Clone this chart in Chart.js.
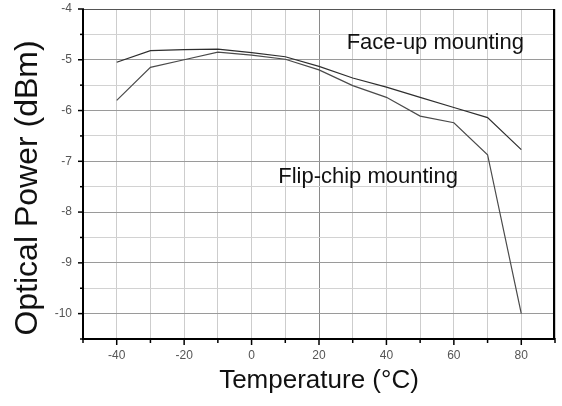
<!DOCTYPE html>
<html>
<head>
<meta charset="utf-8">
<script src="https://cdn.jsdelivr.net/npm/chart.js@4/dist/chart.umd.min.js"></script>
<style>
html,body{margin:0;padding:0;background:#fff;}
#wrap{width:562px;height:406px;}
</style>
</head>
<body>
<div id="wrap"><canvas id="c" width="562" height="406"></canvas></div>
<script>
const temperatures = [-40, -30, -20, -10, 0, 10, 20, 30, 40, 50, 60, 70, 80];
const faceUpPower  = [-5.05, -4.82, -4.80, -4.79, -4.86, -4.94, -5.13, -5.36, -5.54, -5.74, -5.94, -6.14, -6.77];
const flipChipPower = [-5.80, -5.15, -5.00, -4.85, -4.91, -4.99, -5.20, -5.51, -5.74, -6.11, -6.24, -6.87, -10.0];
const xTickLabels = [-40, -20, 0, 20, 40, 60, 80];
const yTickLabels = [-4, -5, -6, -7, -8, -9, -10];
const yTitle = 'Optical Power (dBm)';
const xTitle = 'Temperature (°C)';
const annotations = [
  {text: 'Face-up mounting', x: 28.2, y: -4.67},
  {text: 'Flip-chip mounting', x: 7.9, y: -7.30}
];

const FONT = '"Liberation Sans", Arial, sans-serif';

const toPts = (xs, ys) => xs.map((x, i) => ({x: x, y: ys[i]}));

const frame = {
  id: 'frame',
  beforeDatasetsDraw(chart) {
    const {ctx, chartArea: a} = chart;
    ctx.save();
    ctx.strokeStyle = '#555';
    ctx.lineWidth = 1;
    ctx.beginPath();
    ctx.moveTo(a.left, a.top + 0.5);
    ctx.lineTo(a.right, a.top + 0.5);
    ctx.stroke();
    ctx.restore();
  },
  afterDraw(chart) {
    const {ctx, chartArea: a, scales} = chart;
    const xs = scales.x, ys = scales.y;
    ctx.save();
    ctx.strokeStyle = '#000';
    ctx.lineWidth = 2;
    ctx.beginPath();
    ctx.moveTo(a.right - 1, a.top);
    ctx.lineTo(a.right - 1, a.bottom);
    ctx.stroke();
    ctx.beginPath();
    ctx.moveTo(a.left, a.top);
    ctx.lineTo(a.left, a.bottom);
    ctx.lineTo(a.right, a.bottom);
    ctx.stroke();
    ctx.lineWidth = 1.5;
    xs.ticks.forEach(t => {
      const px = xs.getPixelForValue(t.value);
      const major = Math.abs(t.value % 20) < 1e-6;
      ctx.beginPath();
      ctx.moveTo(px, a.bottom - 1);
      ctx.lineTo(px, a.bottom + (major ? 6 : 4));
      ctx.stroke();
    });
    ys.ticks.forEach(t => {
      const py = ys.getPixelForValue(t.value);
      const major = Math.abs(t.value - Math.round(t.value)) < 1e-6;
      ctx.beginPath();
      ctx.moveTo(a.left + 1, py);
      ctx.lineTo(a.left - (major ? 5 : 3), py);
      ctx.stroke();
    });
    ctx.fillStyle = '#111';
    ctx.font = '22px ' + FONT;
    ctx.textAlign = 'left';
    ctx.textBaseline = 'middle';
    annotations.forEach(an => {
      ctx.fillText(an.text, xs.getPixelForValue(an.x), ys.getPixelForValue(an.y));
    });
    ctx.save();
    ctx.translate(28, 188);
    ctx.rotate(-Math.PI / 2);
    ctx.font = '32px ' + FONT;
    ctx.textAlign = 'center';
    ctx.textBaseline = 'middle';
    ctx.fillText(yTitle, 0, 0);
    ctx.restore();
    ctx.restore();
  }
};

new Chart(document.getElementById('c'), {
  type: 'line',
  data: {
    datasets: [
      {label: 'Face-up mounting', data: toPts(temperatures, faceUpPower),
       borderColor: '#2e2e2e', borderWidth: 1.2, pointRadius: 0, tension: 0, fill: false},
      {label: 'Flip-chip mounting', data: toPts(temperatures, flipChipPower),
       borderColor: '#4a4a4a', borderWidth: 1.2, pointRadius: 0, tension: 0, fill: false}
    ]
  },
  options: {
    responsive: false,
    animation: false,
    devicePixelRatio: 1,
    layout: {padding: {top: 9, right: 7, left: 0, bottom: 0}},
    plugins: {legend: {display: false}, tooltip: {enabled: false}},
    scales: {
      x: {
        type: 'linear', min: -50, max: 90,
        afterFit: s => { s.height = 67; s.paddingLeft = 0; s.paddingRight = 0; },
        border: {display: false},
        grid: {
          drawTicks: false,
          color: ctx => (ctx.tick && ctx.tick.value === 20) ? '#8a8a8a' : '#cdcdcd',
          lineWidth: 1
        },
        ticks: {
          stepSize: 10, autoSkip: false, maxRotation: 0, padding: 9,
          color: '#555', font: {family: FONT, size: 12},
          callback: v => xTickLabels.includes(v) ? String(v) : ''
        },
        title: {display: true, text: xTitle, color: '#111',
                font: {family: FONT, size: 26}, padding: {top: 0, bottom: 10}}
      },
      y: {
        type: 'linear', min: -10.5, max: -4,
        afterFit: s => { s.width = 83; s.paddingTop = 0; s.paddingBottom = 0; },
        border: {display: false},
        grid: {
          drawTicks: false,
          color: ctx => {
            if (!ctx.tick) return '#d2d2d2';
            const v = ctx.tick.value;
            if (v === -4 || v === -10.5) return 'rgba(0,0,0,0)';
            return Math.abs(v - Math.round(v)) < 1e-6 ? '#9a9a9a' : '#d2d2d2';
          },
          lineWidth: 1
        },
        ticks: {
          stepSize: 0.5, autoSkip: false, padding: 11,
          color: '#555', font: {family: FONT, size: 12},
          callback: v => yTickLabels.includes(v) ? String(v) : ''
        },
        title: {display: false}
      }
    }
  },
  plugins: [frame]
});
</script>
</body>
</html>
